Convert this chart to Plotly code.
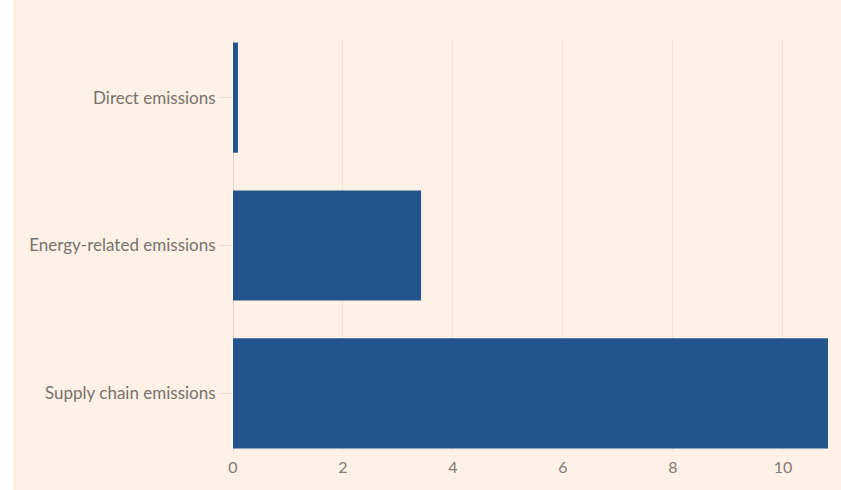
import plotly.graph_objects as go

categories = ["Direct emissions", "Energy-related emissions", "Supply chain emissions"]
values = [0.09, 3.42, 10.82]
x_ticks = [0, 2, 4, 6, 8, 10]

W, H = 841, 490
L, R = 233, 828
T, B = 40, 451

fig = go.Figure(go.Bar(
    y=categories, x=values, orientation="h",
    marker=dict(color="#20548a", line=dict(width=0)),
    width=0.745,
))

pw = R - L
ph = B - T
fig.add_shape(type="rect", xref="paper", yref="paper",
              x0=(13 - L) / pw, x1=(W - L) / pw + 0.01,
              y0=(B - H) / ph - 0.01, y1=B / ph + 0.01,
              fillcolor="#fff1e5", line=dict(width=0), layer="below")

fig.update_layout(
    width=W, height=H,
    margin=dict(l=L, r=W - R, t=T, b=H - B),
    paper_bgcolor="white",
    plot_bgcolor="rgba(0,0,0,0)",
    font=dict(family="Lato, sans-serif", color="#77716d"),
    showlegend=False,
    bargap=0.255,
)
fig.update_xaxes(
    range=[0, 10.82], tickvals=x_ticks, ticktext=[str(v) for v in x_ticks],
    showgrid=True, gridcolor="#ede4da", gridwidth=1,
    zeroline=True, zerolinecolor="#e0d8cf", zerolinewidth=1,
    showline=False, ticks="outside", ticklen=2, tickcolor="rgba(0,0,0,0)",
    tickfont=dict(size=16, color="#807a76"),
)
fig.update_yaxes(
    categoryorder="array", categoryarray=categories,
    range=[2.39, -0.39],
    showgrid=False, zeroline=False, showline=False,
    ticks="outside", ticklen=13, tickcolor="#e6ddd3", tickwidth=1,
    tickfont=dict(size=17, color="#77716d"),
)
fig.write_html("out.html")
